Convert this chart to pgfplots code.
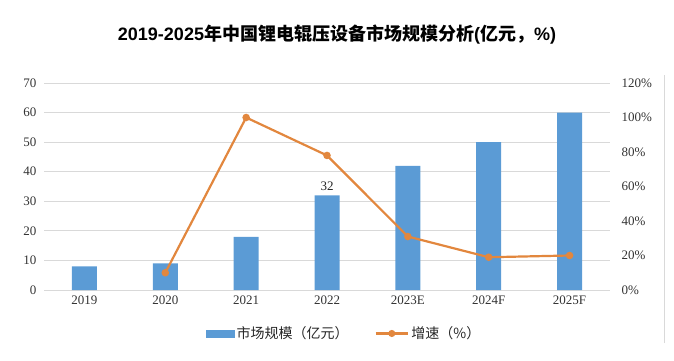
\documentclass[border=0pt]{standalone}
\usepackage{pgfplots}
\pgfplotsset{compat=1.18}
\usepackage{fontspec}
\setmainfont{Liberation Serif}
\newfontfamily\cjk{Noto Sans CJK SC}
\newfontfamily\lsans{Liberation Sans}
\definecolor{barblue}{HTML}{5B9BD5}
\definecolor{lineorange}{HTML}{E2873E}
\definecolor{gridgray}{HTML}{D9D9D9}
\begin{document}
\begin{tikzpicture}
\path[use as bounding box] (0,0) rectangle (674pt,360pt);
\node[font=\fontsize{18}{20}\selectfont] at (337pt,325pt) {{\lsans\bfseries 2019-2025}{\cjk\bfseries 年中国锂电辊压设备市场规模分析}{\lsans\bfseries(}{\cjk\bfseries 亿元，}{\lsans\bfseries\%)}};
\draw[gridgray, line width=0.8pt] (664pt,17pt) -- (664pt,285pt);
\begin{axis}[
  at={(44pt,70pt)}, anchor=south west, scale only axis,
  width=566pt, height=207pt,
  xmin=-0.5, xmax=6.5, ymin=0, ymax=70,
  ytick={0,10,...,70},
  xtick={0,...,6},
  xticklabels={2019,2020,2021,2022,2023E,2024F,2025F},
  ymajorgrids, grid style={gridgray, line width=0.8pt},
  axis x line*=bottom, axis y line*=left,
  y axis line style={draw=none},
  x axis line style={gridgray, line width=0.8pt},
  major tick length=0pt,
  tick label style={font=\fontsize{13}{15}\selectfont, text=black!80},
  /pgf/number format/assume math mode=true,
  yticklabel style={xshift=-4pt},
  xticklabel style={yshift=-2pt},
  ybar, bar width=25pt,
  clip=false,
]
\addplot[fill=barblue, draw=none] coordinates {(0,8) (1,9) (2,18) (3,32) (4,42) (5,50) (6,60)};
\node[above, font=\fontsize{13}{15}\selectfont, text=black!85] at (axis cs:3,32.3) {32};
\end{axis}
\begin{axis}[
  at={(44pt,70pt)}, anchor=south west, scale only axis,
  width=566pt, height=207pt,
  xmin=-0.5, xmax=6.5, ymin=0, ymax=120,
  ytick={0,20,...,120},
  axis x line=none, axis y line*=right,
  y axis line style={draw=none},
  major tick length=0pt,
  tick label style={font=\fontsize{13}{15}\selectfont, text=black!80},
  /pgf/number format/assume math mode=true,
  yticklabel={\pgfmathprintnumber{\tick}\%},
  yticklabel style={xshift=8pt},
  clip=false,
  legend columns=2,
  legend style={at={(0.53,-0.21)}, anchor=center, draw=none, fill=none,
    font=\cjk\fontsize{14}{16}\selectfont, text=black!85,
    /tikz/every even column/.append style={column sep=24pt}},
  legend image code/.code={},
]
\addlegendimage{legend image code/.code={\fill[barblue] (0cm,-3.5pt) rectangle (1.0cm,3.5pt);}}
\addlegendentry{市场规模（亿元）}
\addplot[lineorange, line width=2.2pt, mark=*, mark size=2.6pt, mark options={fill=lineorange, draw=lineorange},
  legend image code/.code={\draw[lineorange, line width=2.2pt] (0cm,0cm) -- (1.15cm,0cm); \fill[lineorange] (0.57cm,0cm) circle (2.4pt);}]
  coordinates {(1,10) (2,100) (3,78) (4,31) (5,19) (6,20)};
\addlegendentry{增速（\%）}
\end{axis}
\end{tikzpicture}
\end{document}
